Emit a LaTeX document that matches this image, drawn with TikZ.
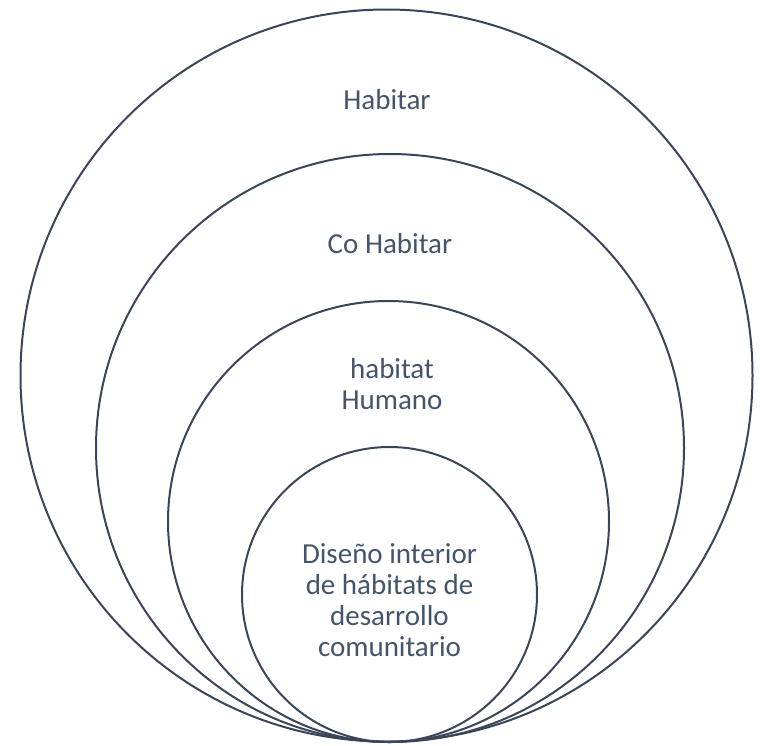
\documentclass[tikz,border=0pt]{standalone}
\usepackage{fontspec}
\setmainfont{Carlito}
\definecolor{txt}{HTML}{44546A}
\definecolor{ring}{HTML}{3A4558}
\begin{document}
\begin{tikzpicture}[x=1pt,y=-1pt,
  ringc/.style={circle,draw=ring,line width=2pt,inner sep=0pt},
  lbl/.style={text=txt,font=\fontsize{29}{31}\selectfont,align=center,inner sep=0pt,anchor=base}]
\useasboundingbox (0,0) rectangle (760,745);
\node[ringc,minimum size=732pt] (c1) at (386.5,375.5) {};
\node[ringc,minimum size=588pt] (c2) at (390,448) {};
\node[ringc,minimum size=441pt] (c3) at (388.5,521.5) {};
\node[ringc,minimum size=295pt] (c4) at (389.5,594.5) {};
\node[lbl] (t1) at (387,109) {Habitar};
\node[lbl] (t2) at (390,253) {Co Habitar};
\node[lbl] (t3) at (392,409) {habitat\\Humano};
\node[lbl] (t4) at (389.5,656) {Diseño interior\\de hábitats de\\desarrollo\\comunitario};
\end{tikzpicture}
\end{document}
